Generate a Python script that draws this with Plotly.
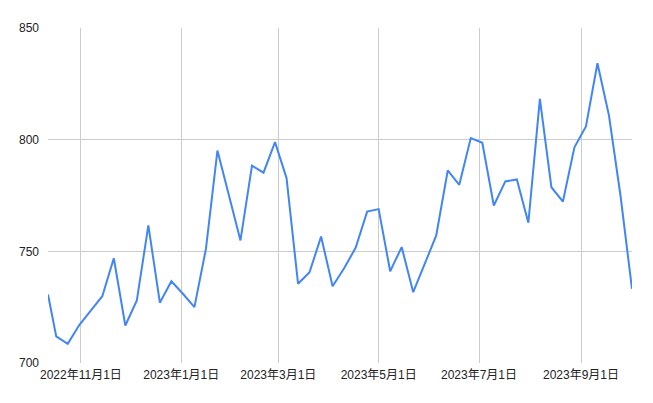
import plotly.graph_objects as go

dates = [
    "2022-10-12", "2022-10-17", "2022-10-24", "2022-10-31", "2022-11-07", "2022-11-14",
    "2022-11-21", "2022-11-28", "2022-12-05", "2022-12-12", "2022-12-19", "2022-12-26",
    "2023-01-02", "2023-01-09", "2023-01-16", "2023-01-23", "2023-01-30", "2023-02-06",
    "2023-02-13", "2023-02-20", "2023-02-27", "2023-03-06", "2023-03-13", "2023-03-20",
    "2023-03-27", "2023-04-03", "2023-04-10", "2023-04-17", "2023-04-24", "2023-05-01",
    "2023-05-08", "2023-05-15", "2023-05-22", "2023-05-29", "2023-06-05", "2023-06-12",
    "2023-06-19", "2023-06-26", "2023-07-03", "2023-07-10", "2023-07-17", "2023-07-24",
    "2023-07-31", "2023-08-07", "2023-08-14", "2023-08-21", "2023-08-28", "2023-09-04",
    "2023-09-11", "2023-09-18", "2023-09-25", "2023-10-02",
]
values = [
    730.7, 711.9, 708.6, 717.0, 723.5, 729.9,
    746.9, 716.8, 728.0, 761.6, 727.0, 736.6,
    731.0, 725.0, 751.1, 795.1, 775.0, 754.9,
    788.4, 785.2, 798.9, 782.8, 735.5, 740.7,
    756.6, 734.4, 742.4, 751.6, 767.8, 768.9,
    741.1, 751.9, 731.7, 744.4, 757.1, 786.2,
    779.8, 800.7, 798.6, 770.5, 781.3, 782.2,
    762.8, 818.3, 778.7, 772.3, 796.6, 805.9,
    834.2, 810.8, 775.0, 733.2,
]
x_tickvals = ["2022-11-01", "2023-01-01", "2023-03-01", "2023-05-01", "2023-07-01", "2023-09-01"]
x_ticktext = ["2022年11月1日", "2023年1月1日", "2023年3月1日", "2023年5月1日", "2023年7月1日", "2023年9月1日"]
y_tickvals = [700, 750, 800, 850]

font_family = "Liberation Sans, Arial, Noto Sans CJK JP, sans-serif"

fig = go.Figure(
    go.Scatter(
        x=dates, y=values, mode="lines",
        line=dict(color="#4285F4", width=2),
        hoverinfo="x+y",
    )
)
# page body has an 8px margin, so the figure is offset by 8px in the window
fig.update_layout(
    width=645, height=395,
    margin=dict(l=40, r=21, t=20, b=40, autoexpand=False),
    plot_bgcolor="white", paper_bgcolor="white",
    showlegend=False,
    font=dict(family=font_family, size=12, color="#222222"),
)
fig.update_xaxes(
    type="date",
    range=[dates[0], dates[-1]],
    tickvals=x_tickvals, ticktext=x_ticktext,
    showgrid=True, gridcolor="#cccccc", gridwidth=1,
    showline=False, zeroline=False, ticks="",
    ticklabelstandoff=3, automargin=False,
)
fig.update_yaxes(
    range=[700, 850],
    tickvals=y_tickvals,
    showgrid=True, gridcolor="#cccccc", gridwidth=1,
    showline=False, zeroline=False, ticks="",
    ticklabelstandoff=8, automargin=False,
)
fig.write_html("out.html")
